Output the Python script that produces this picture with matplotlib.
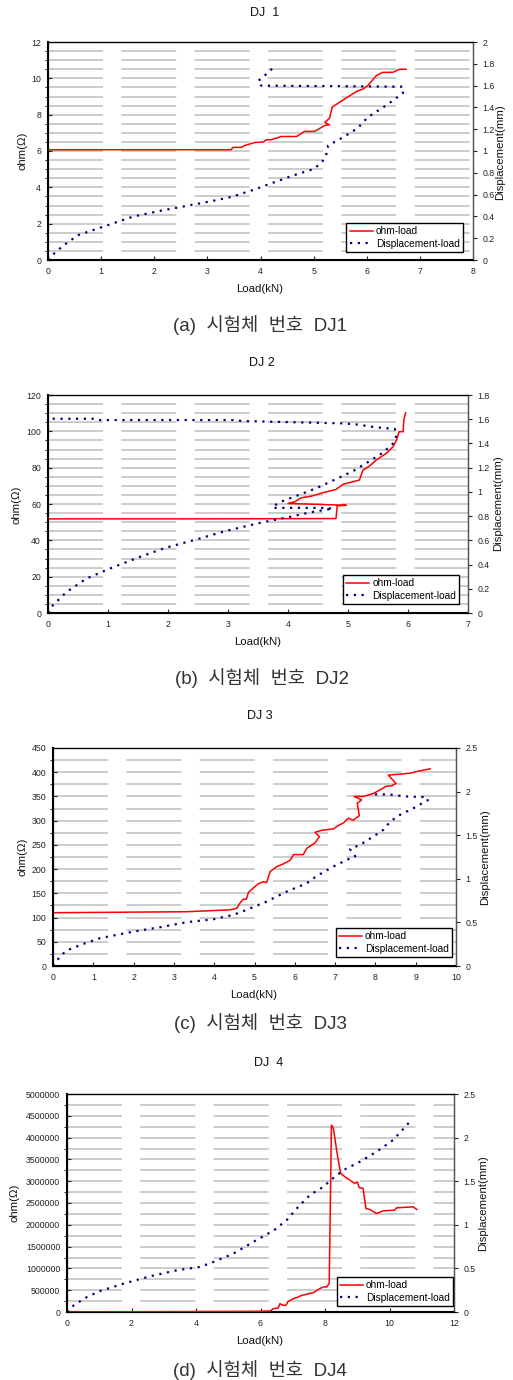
import matplotlib
matplotlib.use("Agg")
import matplotlib.pyplot as plt
from matplotlib.ticker import MultipleLocator, FuncFormatter

plt.rcParams['font.family'] = ['Liberation Sans', 'Noto Sans CJK KR', 'DejaVu Sans']

dj1_ohm_load = [0, 3.45, 3.48, 3.64, 3.70, 3.89, 4.05, 4.11, 4.20, 4.30, 4.39, 4.68, 4.83, 5.02,
                5.21, 5.30, 5.21, 5.30, 5.35, 5.56, 5.81, 5.93, 6.02, 6.18, 6.30, 6.49, 6.62, 6.74]
dj1_ohm = [6.07, 6.07, 6.2, 6.2, 6.3, 6.47, 6.49, 6.62, 6.62, 6.71, 6.8, 6.8, 7.08, 7.08,
           7.41, 7.44, 7.57, 7.81, 8.42, 8.82, 9.28, 9.41, 9.6, 10.15, 10.33, 10.33, 10.5, 10.5]
dj1_disp_load = [0, 0.13, 0.28, 0.56, 1.04, 1.6, 2.1, 2.67, 3.1, 3.48, 3.86, 4.3, 4.61, 4.99,
                 5.14, 5.21, 5.27, 5.27, 5.56, 5.83, 6.02, 6.37, 6.68, 6.68, 4.01, 3.95, 4.05, 4.22]
dj1_disp = [0, 0.067, 0.129, 0.227, 0.306, 0.398, 0.45, 0.502, 0.542, 0.582, 0.643, 0.72, 0.775, 0.833,
            0.888, 0.934, 1.01, 1.05, 1.127, 1.21, 1.31, 1.42, 1.53, 1.59, 1.6, 1.64, 1.68, 1.755]

dj2_ohm_load = [0, 2.6, 4.8, 4.82, 4.97, 4.0, 4.11, 4.22, 4.39, 4.58, 4.8, 4.92, 5.08, 5.19,
                5.25, 5.36, 5.47, 5.64, 5.75, 5.81, 5.85, 5.92, 5.93, 5.96]
dj2_ohm = [51.8, 51.8, 52.0, 59.0, 59.3, 60.3, 61.2, 63.4, 64.3, 66.2, 68.0, 70.9, 72.2, 73.2,
           78.7, 80.9, 84.2, 87.9, 91.5, 95.2, 99.8, 99.8, 106.3, 110.3]
dj2_disp_load = [0, 0.08, 0.31, 0.64, 1.03, 1.53, 1.97, 2.42, 2.97, 3.53, 4.03, 4.36, 4.75, 4.53,
                 3.75, 3.75, 3.92, 4.14, 4.47, 4.81, 5.08, 5.36, 5.58, 5.75, 5.81, 5.78, 5.47,
                 5.14, 4.92, 4.19, 3.25, 3.08, 0.86, 0.81, 0.06]
dj2_disp = [0, 0.063, 0.174, 0.284, 0.367, 0.463, 0.54, 0.6, 0.678, 0.744, 0.794, 0.83, 0.863, 0.868,
            0.868, 0.882, 0.926, 0.967, 1.03, 1.108, 1.17, 1.254, 1.323, 1.4, 1.466, 1.52, 1.533,
            1.557, 1.566, 1.574, 1.585, 1.593, 1.593, 1.604, 1.604]

dj3_ohm_load = [0, 3.31, 4.39, 4.56, 4.64, 4.72, 4.80, 4.85, 4.97, 5.10, 5.22, 5.30, 5.39, 5.55,
                5.72, 5.88, 5.97, 6.21, 6.30, 6.50, 6.61, 6.50, 6.66, 6.96, 7.08, 7.20, 7.33, 7.45,
                7.60, 7.55, 7.66, 7.47, 7.70, 7.95, 8.12, 8.27, 8.41, 8.51, 8.32, 8.61, 8.86, 9.11, 9.36]
dj3_ohm = [110, 112, 116, 119, 130, 138, 138, 152, 161, 170, 174, 172, 195, 205,
           211, 218, 230, 230, 243, 254, 267, 276, 280, 283, 290, 295, 305, 301,
           310, 336, 343, 350, 350, 356, 364, 371, 372, 377, 394, 396, 398, 403, 407]
dj3_disp_load = [0, 0.17, 0.33, 0.75, 1.16, 1.99, 2.65, 3.31, 3.98, 4.47, 4.80, 5.30, 5.80, 6.30,
                 6.55, 6.96, 7.29, 7.50, 7.37, 7.62, 7.95, 8.20, 8.37, 8.61, 8.95, 9.32, 9.19,
                 8.74, 8.32, 7.87]
dj3_disp = [0, 0.107, 0.176, 0.253, 0.318, 0.394, 0.444, 0.502, 0.536, 0.586, 0.643, 0.739, 0.854,
            0.949, 1.034, 1.141, 1.217, 1.256, 1.34, 1.39, 1.485, 1.562, 1.658, 1.734, 1.811,
            1.907, 1.937, 1.945, 1.968, 1.968]

dj4_ohm_load = [0, 5.68, 6.30, 6.40, 6.55, 6.60, 6.71, 6.79, 6.86, 7.02, 7.17, 7.28, 7.64, 7.84,
                7.95, 8.05, 8.13, 8.15, 8.20, 8.26, 8.36, 8.41, 8.49, 8.62, 8.77, 8.93, 9.00,
                9.06, 9.18, 9.27, 9.39, 9.60, 9.80, 10.16, 10.22, 10.73, 10.85]
dj4_ohm = [0, 15000, 23000, 77000, 92000, 191000, 153000, 153000, 245000, 306000, 345000, 383000,
           444000, 536000, 574000, 574000, 651000, 1646000, 4288000, 4211000, 3714000, 3484000,
           3178000, 3100000, 3024000, 2948000, 2986000, 2856000, 2833000, 2374000, 2351000,
           2259000, 2320000, 2335000, 2389000, 2412000, 2351000]
dj4_disp_load = [0, 0.21, 0.62, 1.03, 1.75, 2.58, 3.41, 4.13, 4.54, 5.16, 5.78, 6.42, 6.81, 7.17,
                 7.53, 7.95, 8.2, 8.57, 9.08, 9.6, 10.11, 10.63]
dj4_disp = [0, 0.077, 0.172, 0.241, 0.325, 0.41, 0.479, 0.517, 0.574, 0.67, 0.804, 0.938, 1.053,
            1.206, 1.34, 1.436, 1.52, 1.627, 1.723, 1.838, 1.972, 2.182]

titles = ["DJ  1", "DJ 2", "DJ 3", "DJ  4"]
captions = ["(a)  시험체  번호  DJ1", "(b)  시험체  번호  DJ2",
            "(c)  시험체  번호  DJ3", "(d)  시험체  번호  DJ4"]

W, H = 513, 1380

# layout in pixels: axes box (left, top, right, bottom) and text anchors
panels = [
    dict(ohm=(dj1_ohm_load, dj1_ohm), disp=(dj1_disp_load, dj1_disp),
         xlim=8, xstep=1, ylim=12, ystep=2, yminor=0.5, dlim=2, dstep=0.2,
         box=(48, 42, 473, 260), title=(265, 13), xlab=(260, 289), cap=(260, 325),
         lylab=(22, 151), rylab=(500, 152), leg=(0.976, 0.037)),
    dict(ohm=(dj2_ohm_load, dj2_ohm), disp=(dj2_disp_load, dj2_disp),
         xlim=7, xstep=1, ylim=120, ystep=20, yminor=5, dlim=1.8, dstep=0.2,
         box=(48, 395, 468, 613), title=(262, 363), xlab=(258, 642), cap=(262, 678),
         lylab=(17, 505), rylab=(498, 503), leg=(0.979, 0.041)),
    dict(ohm=(dj3_ohm_load, dj3_ohm), disp=(dj3_disp_load, dj3_disp),
         xlim=10, xstep=1, ylim=450, ystep=50, yminor=25, dlim=2.5, dstep=0.5,
         box=(53, 748, 456, 966), title=(260, 716), xlab=(254, 995), cap=(260, 1023),
         lylab=(22, 857), rylab=(485, 857), leg=(0.99, 0.041)),
    dict(ohm=(dj4_ohm_load, dj4_ohm), disp=(dj4_disp_load, dj4_disp),
         xlim=12, xstep=2, ylim=5000000, ystep=500000, yminor=250000, dlim=2.5, dstep=0.5,
         box=(67, 1094, 454, 1312), title=(269, 1063), xlab=(260, 1341), cap=(260, 1370),
         lylab=(15, 1203), rylab=(483, 1203), leg=(0.997, 0.028)),
]

fig = plt.figure(figsize=(W / 100, H / 100), dpi=100)


def fx(px):
    return px / W


def fy(py):
    return 1 - py / H


for i, p in enumerate(panels):
    l, t, r, b = p['box']
    ax = fig.add_axes([fx(l), fy(b), (r - l) / W, (b - t) / H])
    ax.set_xlim(0, p['xlim'])
    ax.set_ylim(0, p['ylim'])
    ax.xaxis.set_major_locator(MultipleLocator(p['xstep']))
    ax.yaxis.set_major_locator(MultipleLocator(p['ystep']))
    ax.yaxis.set_minor_locator(MultipleLocator(p['yminor']))
    ax.yaxis.set_major_formatter(FuncFormatter(lambda v, pos: f"{v:.0f}"))
    ax.grid(which='both', axis='y', color='#c4c4c4', lw=1.2, linestyle=(0, (33, 11)))
    ax.set_axisbelow(True)
    ax.tick_params(axis='both', which='major', direction='in', length=3, labelsize=6.3,
                   colors='#222222', pad=5)
    ax.tick_params(axis='y', which='minor', left=False)
    for side in ['left', 'bottom']:
        ax.spines[side].set_linewidth(1.5)
    for side in ['top', 'right']:
        ax.spines[side].set_linewidth(1.0)
        ax.spines[side].set_color('#555555')

    h1, = ax.plot(*p['ohm'], color='red', lw=1.1, label='ohm-load', zorder=3)

    ax2 = ax.twinx()
    ax2.set_ylim(0, p['dlim'])
    ax2.yaxis.set_major_locator(MultipleLocator(p['dstep']))
    ax2.yaxis.set_major_formatter(FuncFormatter(lambda v, pos: f"{v:g}"))
    ax2.tick_params(axis='y', direction='out', length=3, labelsize=6.3, colors='#222222', pad=4)
    ax2.spines['right'].set_color('#555555')
    h2, = ax2.plot(*p['disp'], color='#000080', lw=1.6, linestyle=(0, (1, 2.5)),
                   label='Displacement-load')

    leg = ax2.legend([h1, h2], ['ohm-load', 'Displacement-load'], loc='lower right',
                     bbox_to_anchor=p['leg'], borderaxespad=0, fontsize=7.3, fancybox=False,
                     edgecolor='black', framealpha=1, borderpad=0.3, handlelength=2.3,
                     handletextpad=0.3, labelspacing=0.25)
    leg.get_frame().set_linewidth(1.0)

    fig.text(fx(p['title'][0]), fy(p['title'][1]), titles[i], ha='center', va='center',
             fontsize=9, color='#111111')
    fig.text(fx(p['xlab'][0]), fy(p['xlab'][1]), 'Load(kN)', ha='center', va='center',
             fontsize=8.2, color='#111111')
    fig.text(fx(p['lylab'][0]), fy(p['lylab'][1]), 'ohm(Ω)', ha='center', va='center',
             rotation=90, fontsize=8.2, color='#111111')
    fig.text(fx(p['rylab'][0]), fy(p['rylab'][1]), 'Displacement(mm)', ha='center', va='center',
             rotation=90, fontsize=8.2, color='#111111')
    fig.text(fx(p['cap'][0]), fy(p['cap'][1]), captions[i], ha='center', va='center',
             fontsize=13.5, color='#333333')

fig.savefig('out.png', dpi=100)
